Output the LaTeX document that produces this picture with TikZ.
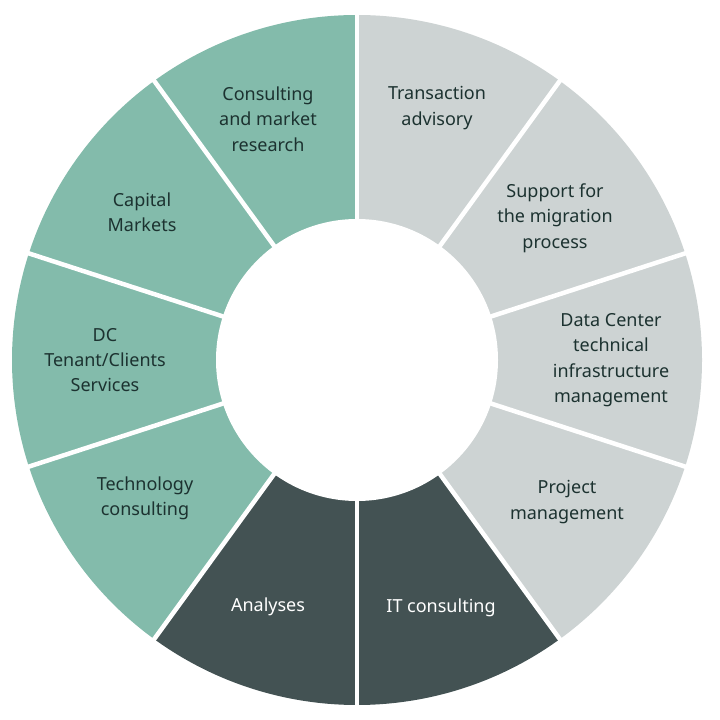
\documentclass[tikz,border=0pt]{standalone}
\usepackage{fontspec}
\setmainfont{Noto Sans}
\definecolor{segGreen}{RGB}{131,187,171}
\definecolor{segGrey}{RGB}{205,211,211}
\definecolor{segDark}{RGB}{67,82,83}
\definecolor{txtDark}{RGB}{28,50,48}
\begin{document}
\begin{tikzpicture}[x=1pt,y=1pt,
  lab/.style={align=center, font=\fontsize{18}{25.3}\selectfont, text=txtDark, inner sep=0pt},
  labw/.style={lab, text=white},
  gap/.style={draw=white, line width=4.5pt}]
\useasboundingbox (0,0) rectangle (720,720);
\coordinate (c) at (357,360);
\foreach \a/\col in {90/segGrey,54/segGrey,18/segGrey,-18/segGrey,-54/segDark,-90/segDark,-126/segGreen,-162/segGreen,-198/segGreen,126/segGreen}{
  \fill[\col] (c) -- ([shift={(\a:345)}]c) arc[start angle=\a, end angle=\a-36, radius=345] -- cycle;
}
\foreach \a in {90,54,18,-18,-54,-90,-126,-162,-198,126}{
  \draw[gap] (c) -- ([shift={(\a:350)}]c);
}
\fill[white] (c) circle[radius=141];
\node[lab] (n1) at (437,612) {Transaction\\advisory};
\node[lab] (n2) at (555,502) {Support for\\the migration\\process};
\node[lab] (n3) at (611,360) {Data Center\\technical\\infrastructure\\management};
\node[lab] (n4) at (567,218) {Project\\management};
\node[labw] (n5) at (441,112) {IT consulting};
\node[labw] (n6) at (268,113) {Analyses};
\node[lab] (n7) at (145,222) {Technology\\consulting};
\node[lab] (n8) at (105,360) {DC\\Tenant/Clients\\Services};
\node[lab] (n9) at (142,508) {Capital\\Markets};
\node[lab] (n10) at (268,601) {Consulting\\and market\\research};
\end{tikzpicture}
\end{document}
